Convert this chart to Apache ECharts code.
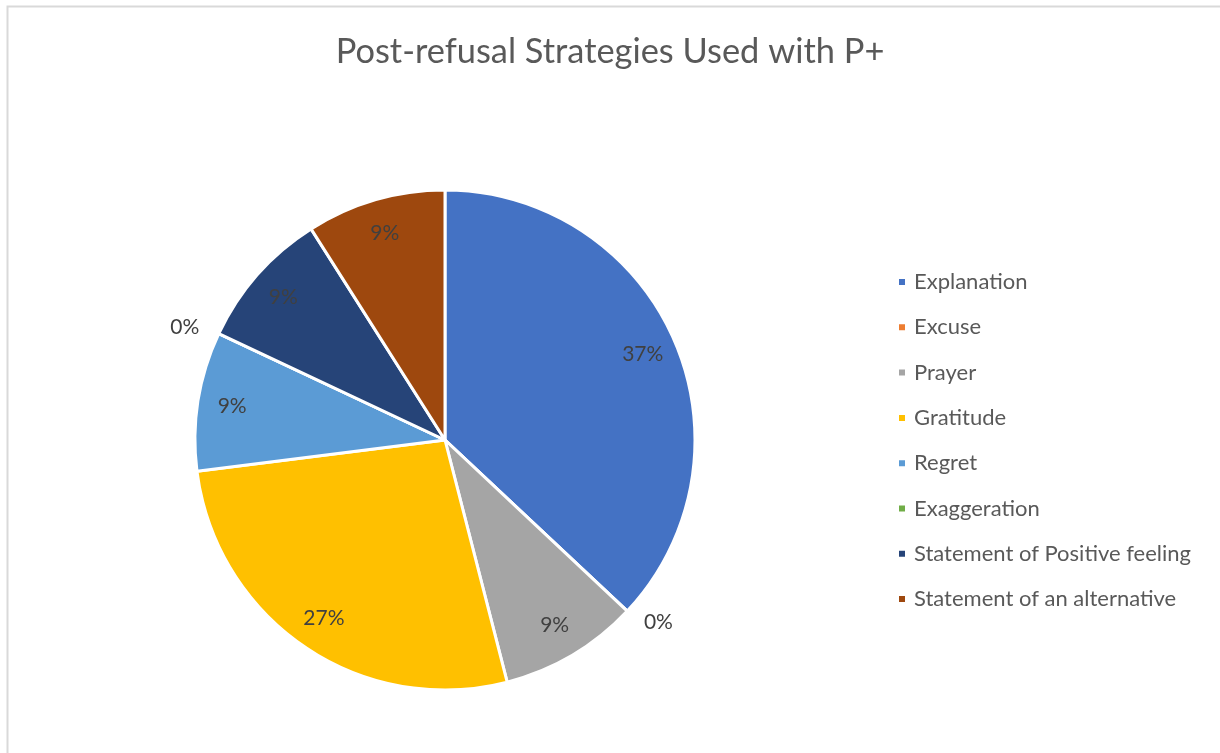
<!DOCTYPE html>
<html>
<head>
<meta charset="utf-8">
<script src="https://cdn.jsdelivr.net/npm/echarts@6/dist/echarts.min.js"></script>
<style>
  html, body { margin: 0; padding: 0; background: #ffffff; }
  #chart { width: 1220px; height: 753px; }
</style>
</head>
<body>
<div id="chart"></div>
<script>
// Post-refusal strategies, share of responses (%)
const categories = [
  'Explanation',
  'Excuse',
  'Prayer',
  'Gratitude',
  'Regret',
  'Exaggeration',
  'Statement of Positive feeling',
  'Statement of an alternative'
];
const shares = [37, 0, 9, 27, 9, 0, 9, 9];
const palette = ['#4472C4', '#ED7D31', '#A5A5A5', '#FFC000', '#5B9BD5', '#70AD47', '#264478', '#9E480E'];

const FONT = 'Lato, "Liberation Sans", sans-serif';
const center = [445, 440];
const radius = 250;

// Slices; only empty slices carry their label, placed just outside the rim
const sliceData = categories.map((name, i) => ({
  name,
  value: shares[i],
  itemStyle: { color: palette[i] },
  label: { show: shares[i] === 0 }
}));

// Invisible twin pie whose "inside" label position lands near the rim of the real pie
const labelData = categories.map((name, i) => ({
  name,
  value: shares[i],
  label: { show: shares[i] !== 0 }
}));

const chart = echarts.init(document.getElementById('chart'), null, { renderer: 'canvas' });
chart.setOption({
  backgroundColor: '#ffffff',
  animation: false,
  title: {
    text: 'Post-refusal Strategies Used with P+',
    left: 'center',
    top: 30,
    textStyle: { fontFamily: FONT, fontSize: 34.4, fontWeight: 'normal', color: '#595959' }
  },
  graphic: [{
    type: 'rect',
    shape: { x: 7.5, y: 6.5, width: 1240, height: 780 },
    style: { fill: 'none', stroke: '#D9D9D9', lineWidth: 2 },
    silent: true
  }],
  legend: {
    orient: 'vertical',
    left: 892,
    top: 264,
    icon: 'rect',
    itemWidth: 8,
    itemHeight: 8,
    itemGap: 19.3,
    data: categories,
    textStyle: {
      fontFamily: FONT, fontSize: 22, color: '#595959',
      lineHeight: 26, padding: [0, 0, 0, 3]
    }
  },
  series: [
    {
      type: 'pie',
      center,
      radius: [0, radius],
      startAngle: 90,
      clockwise: true,
      avoidLabelOverlap: false,
      stillShowZeroSum: true,
      itemStyle: { borderColor: '#ffffff', borderWidth: 3 },
      label: {
        position: 'outside',
        formatter: '{c}%',
        fontFamily: FONT,
        fontSize: 21,
        color: '#404040'
      },
      labelLine: { show: false, length: 16, length2: 0 },
      emphasis: { disabled: true },
      data: sliceData
    },
    {
      type: 'pie',
      center,
      radius: [0, radius * 1.7],
      startAngle: 90,
      clockwise: true,
      silent: true,
      legendHoverLink: false,
      itemStyle: { color: 'rgba(0,0,0,0)', borderWidth: 0 },
      label: {
        position: 'inside',
        formatter: '{c}%',
        fontFamily: FONT,
        fontSize: 21,
        color: '#404040'
      },
      labelLine: { show: false },
      emphasis: { disabled: true },
      data: labelData,
      z: 3
    }
  ]
});
</script>
</body>
</html>
